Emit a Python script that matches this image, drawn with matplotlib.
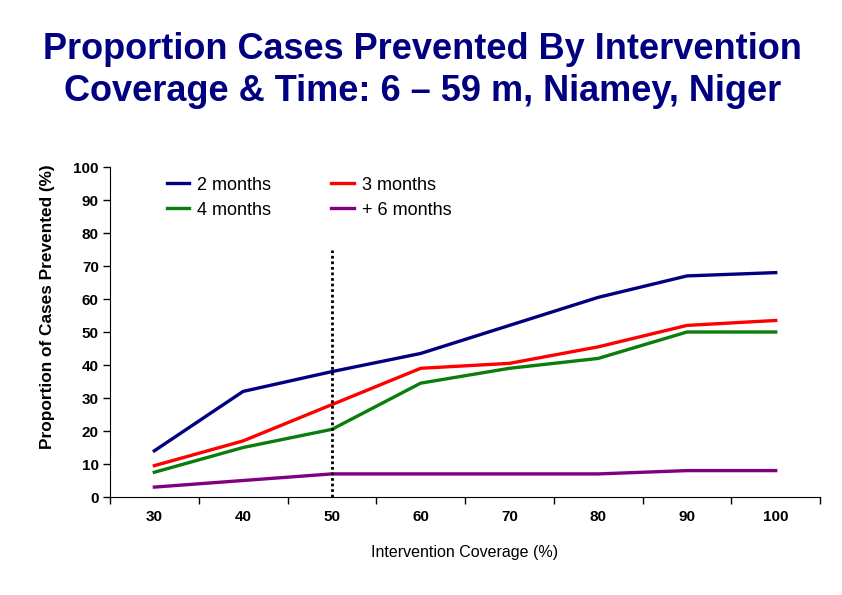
import numpy as np
import matplotlib
matplotlib.use("Agg")
import matplotlib.pyplot as plt
from matplotlib.ticker import FixedLocator

coverage = ["30", "40", "50", "60", "70", "80", "90", "100"]
two_months = [14, 32, 38, 43.5, 52, 60.5, 67, 68]
three_months = [9.5, 17, 28, 39, 40.5, 45.5, 52, 53.5]
four_months = [7.5, 15, 20.5, 34.5, 39, 42, 50, 50]
six_months = [3, 5, 7, 7, 7, 7, 8, 8]
cutoff_index = 2
cutoff_top = 75

plt.rcParams['font.family'] = ['Liberation Sans', 'DejaVu Sans']

fig = plt.figure(figsize=(8.42, 5.95), dpi=100)
ax = fig.add_axes([0.1306, 0.1647, 0.8434, 0.5546])

x = np.arange(len(coverage))
lw = 2.4
ax.plot(x, two_months, color="#000080", lw=lw, label="2 months")
ax.plot(x, three_months, color="#ff0000", lw=lw, label="3 months")
ax.plot(x, four_months, color="#0a7d0a", lw=lw, label="4 months")
ax.plot(x, six_months, color="#800080", lw=lw, label="+ 6 months")
ax.plot([cutoff_index, cutoff_index], [0, cutoff_top], color="black",
        lw=2, linestyle=(0, (1, 1)))

ax.set_xlim(-0.5, len(coverage) - 0.5)
ax.set_ylim(0, 100)
ax.set_yticks(range(0, 101, 10))
ax.set_xticks(x)
ax.set_xticklabels(coverage)
ax.xaxis.set_minor_locator(FixedLocator(np.arange(-0.5, len(coverage), 1)))
ax.tick_params(axis="x", which="major", length=0, pad=9.5)
ax.tick_params(axis="x", which="minor", length=5, width=1, direction="out")
ax.tick_params(axis="y", length=5, width=1, direction="out", pad=3)
for lab in ax.get_xticklabels() + ax.get_yticklabels():
    lab.set_fontsize(11)
    lab.set_fontweight("bold")

for s in ["top", "right"]:
    ax.spines[s].set_visible(False)

ax.set_xlabel("Intervention Coverage (%)", fontsize=11.5, labelpad=15)
ax.set_ylabel("Proportion of Cases Prevented (%)", fontsize=12.4,
              fontweight="bold")
ax.yaxis.set_label_coords(-0.078, 0.576)

# legend order: 2, 3 in first row; 4, +6 in second
h, l = ax.get_legend_handles_labels()
order = [0, 2, 1, 3]
ax.legend([h[i] for i in order], [l[i] for i in order], ncol=2, frameon=False,
          loc="upper left", bbox_to_anchor=(0.057, 1.02), fontsize=13,
          handlelength=1.25, handletextpad=0.45, columnspacing=3.3,
          labelspacing=0.45)

fig.text(0.502, 0.882, "Proportion Cases Prevented By Intervention\nCoverage & Time: 6 \u2013 59 m, Niamey, Niger",
         ha="center", va="center", fontsize=26, fontweight="bold",
         color="#000080", linespacing=1.26)

fig.savefig("out.png", dpi=100)
